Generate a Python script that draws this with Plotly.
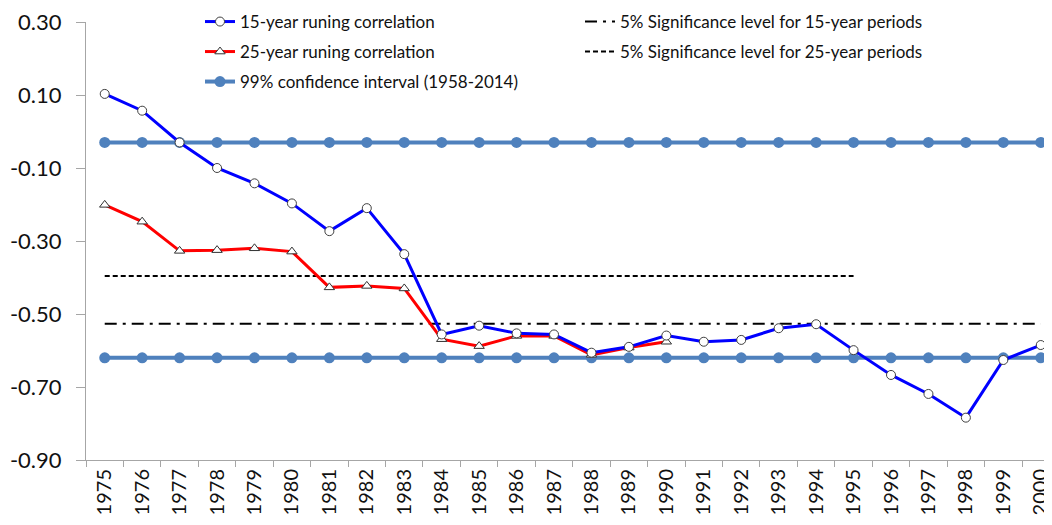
import plotly.graph_objects as go

years = list(range(1975, 2001))
corr15 = [0.103, 0.057, -0.03, -0.10, -0.142, -0.197, -0.273, -0.21, -0.336,
          -0.556, -0.532, -0.553, -0.556, -0.606, -0.59, -0.559, -0.576, -0.571,
          -0.539, -0.528, -0.599, -0.667, -0.719, -0.784, -0.626, -0.585]
years25 = list(range(1975, 1991))
corr25 = [-0.201, -0.247, -0.327, -0.325, -0.32, -0.329, -0.427, -0.423, -0.43,
          -0.569, -0.588, -0.56, -0.56, -0.612, -0.592, -0.576]
sig15_years = list(range(1975, 2001))
sig15_level = -0.527
sig25_years = list(range(1975, 1996))
sig25_level = -0.396
ci_upper = -0.03
ci_lower = -0.62
ytick_vals = [0.30, 0.10, -0.10, -0.30, -0.50, -0.70, -0.90]
ytick_text = ["0.30", "0.10", "-0.10", "-0.30", "-0.50", "-0.70", "-0.90"]

W, H = 1044, 517
FONT = "Lato"
CI_COLOR = "#4F81BD"

fig = go.Figure()

fig.add_trace(go.Scatter(
    x=years, y=[ci_upper] * len(years), mode="lines+markers",
    name="99% confidence interval (1958-2014)",
    line=dict(color=CI_COLOR, width=4),
    marker=dict(symbol="circle", size=11, color=CI_COLOR), legend="legend3"))
fig.add_trace(go.Scatter(
    x=years, y=[ci_lower] * len(years), mode="lines+markers",
    name="99% confidence interval (1958-2014)", showlegend=False,
    line=dict(color=CI_COLOR, width=4),
    marker=dict(symbol="circle", size=11, color=CI_COLOR)))
fig.add_trace(go.Scatter(
    x=sig25_years, y=[sig25_level] * len(sig25_years), mode="lines",
    name="5% Significance level for 25-year periods",
    line=dict(color="black", width=2, dash="5px,3px"), legend="legend5"))
fig.add_trace(go.Scatter(
    x=sig15_years, y=[sig15_level] * len(sig15_years), mode="lines",
    name="5% Significance level for 15-year periods",
    line=dict(color="black", width=2, dash="12px,6px,3px,6px"), legend="legend4"))
fig.add_trace(go.Scatter(
    x=years25, y=corr25, mode="lines+markers",
    name="25-year runing correlation",
    line=dict(color="#FF0000", width=3),
    marker=dict(symbol="triangle-up", size=9, color="white",
                line=dict(color="#303030", width=1)), legend="legend2"))
fig.add_trace(go.Scatter(
    x=years, y=corr15, mode="lines+markers",
    name="15-year runing correlation",
    line=dict(color="#0000FF", width=3),
    marker=dict(symbol="circle", size=9, color="white",
                line=dict(color="#404040", width=1)), legend="legend"))

def leg(tx, ty):
    return dict(xref="container", yref="container", x=tx / W, y=1 - ty / H,
                xanchor="left", yanchor="middle", bgcolor="rgba(0,0,0,0)",
                font=dict(family=FONT, size=17, color="#111"), borderwidth=0)

fig.update_layout(
    width=W, height=H,
    margin=dict(l=78, r=0, t=14, b=65, autoexpand=False),
    plot_bgcolor="white", paper_bgcolor="white",
    font=dict(family=FONT, color="#111"),
    legend=leg(192, 14), legend2=leg(192, 44), legend3=leg(192, 74),
    legend4=leg(572, 14), legend5=leg(572, 44),
)
fig.update_xaxes(
    range=[1974.5, 2000.3], tickmode="array", tickvals=years,
    ticktext=[str(y) for y in years], tickangle=-90, ticks="",
    tickfont=dict(family=FONT, size=20, color="#111"), ticklabeloverflow="allow",
    showgrid=False, zeroline=False, showline=True, linecolor="#A6A6A6", linewidth=1,
    minor=dict(tickmode="array", tickvals=[y + 0.5 for y in years[:-1]] + [1974.5],
               ticks="outside", ticklen=6, tickcolor="#A6A6A6", showgrid=False),
)
fig.update_yaxes(
    range=[-0.9, 0.3], tickmode="array", tickvals=ytick_vals, ticktext=ytick_text,
    ticks="outside", ticklen=9, tickcolor="#A6A6A6", ticklabelstandoff=10,
    tickfont=dict(family=FONT, size=22, color="#111"), ticklabeloverflow="allow",
    showgrid=False, zeroline=False, showline=True, linecolor="#A6A6A6", linewidth=1,
)

fig.write_html("out.html")
